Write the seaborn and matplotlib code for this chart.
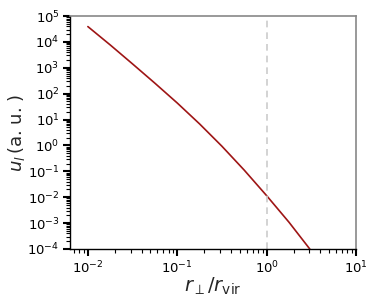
import matplotlib
matplotlib.use("Agg")
import matplotlib.pyplot as plt
import seaborn as sns
import pandas as pd
import numpy as np

r_perp = [0.010, 0.0178, 0.0316, 0.0562, 0.100, 0.178, 0.316, 0.562, 1.00, 1.78, 3.04]
u_l = [3.9e4, 7.6e3, 1.41e3, 2.54e2, 43.6, 6.76, 0.933, 0.111, 1.15e-2, 1.08e-3, 1.0e-4]

df = pd.DataFrame({"r": r_perp, "u": u_l})

sns.set_theme(style="ticks")
plt.rcParams['font.family'] = ['DejaVu Sans']
plt.rcParams['mathtext.fontset'] = 'dejavusans'

fig = plt.figure(figsize=(3.74, 3.01), dpi=100)
ax = fig.add_axes([70/374, 1 - 249/301, (356-70)/374, (249-16)/301])

sns.lineplot(data=df, x="r", y="u", ax=ax, color="#9e1515", linewidth=1.2)
ax.axvline(1.0, color="#cccccc", linestyle="--", linewidth=1.2, dashes=(4, 3))

ax.set_xscale("log")
ax.set_yscale("log")
ax.set_xlim(10**-2.2, 10)
ax.set_ylim(1e-4, 1e5)

ax.set_xticks([1e-2, 1e-1, 1e0, 1e1])
ax.set_yticks([10.0**k for k in range(-4, 6)])
ax.yaxis.set_minor_locator(matplotlib.ticker.LogLocator(base=10, subs=np.arange(2, 10), numticks=20))
ax.xaxis.set_minor_locator(matplotlib.ticker.LogLocator(base=10, subs=np.arange(2, 10), numticks=20))
ax.yaxis.set_minor_formatter(matplotlib.ticker.NullFormatter())
ax.xaxis.set_minor_formatter(matplotlib.ticker.NullFormatter())

ax.tick_params(which="major", direction="out", length=5, width=1.5, labelsize=9.5, colors="black", pad=2.5)
ax.tick_params(which="minor", direction="out", length=3, width=0.8, colors="black")

for s in ["left", "bottom"]:
    ax.spines[s].set_color("black")
    ax.spines[s].set_linewidth(1.0)
for s in ["top", "right"]:
    ax.spines[s].set_visible(True)
    ax.spines[s].set_color("#888888")
    ax.spines[s].set_linewidth(1.2)

ax.set_xlabel(r"$r_\perp/r_{\rm vir}$", fontsize=14)
ax.set_ylabel(r"$u_l\,$(a. u. )", fontsize=13)
ax.xaxis.set_label_coords(0.5, -0.115)
ax.yaxis.set_label_coords(-0.15, 0.5)

fig.savefig("out.png", dpi=100)
